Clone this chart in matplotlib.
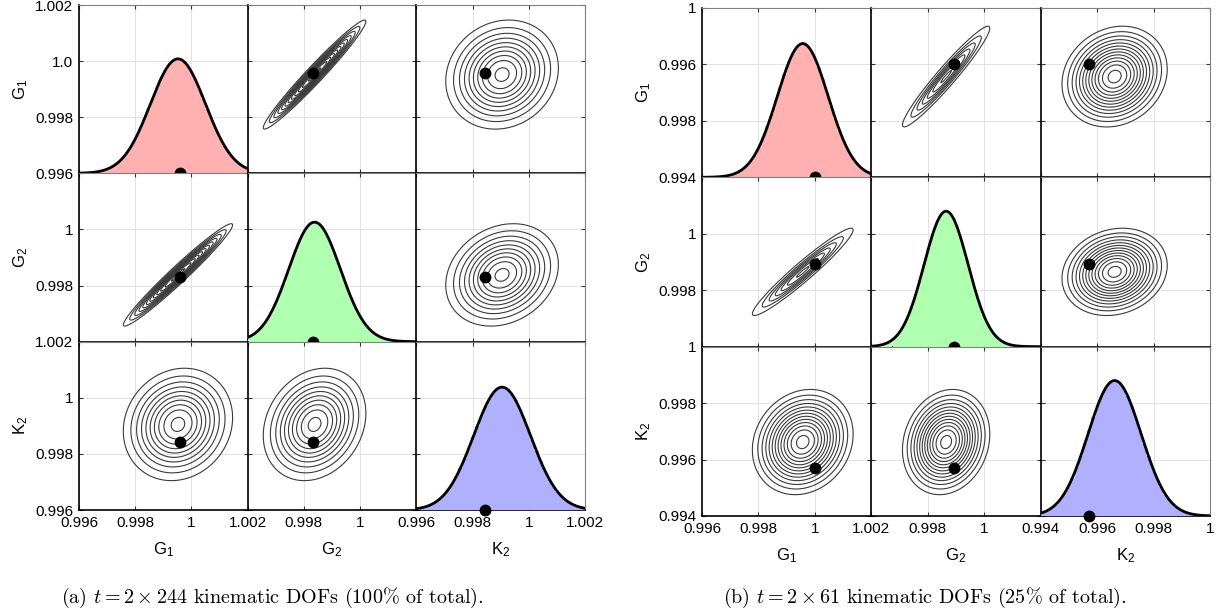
import numpy as np
import matplotlib.pyplot as plt

plt.rcParams['font.family'] = ['Liberation Sans', 'DejaVu Sans']
plt.rcParams['mathtext.default'] = 'regular'

names = ['G$_1$', 'G$_2$', 'K$_2$']
fill_colors = ['#ffb0b0', '#b0ffb0', '#b0b0ff']

# panel (a): posterior means / stds, correlations (G1G2, G1K2, G2K2), true values
a_mean = [0.99952, 0.99838, 0.99905]
a_std = [0.00098, 0.00092, 0.00101]
a_rho = [0.975, 0.12, 0.2]
a_true = [0.99958, 0.99832, 0.99843]
a_lims = [(0.996, 1.002), (0.996, 1.002), (0.996, 1.002)]
a_xlabels = [['0.996', '0.998', '1', '1.002'], ['', '0.998', '1', ''],
             ['0.996', '0.998', '1', '1.002']]
a_ylabels = [['0.996', '0.998', '1.0', '1.002'], ['1.002', '0.998', '1', ''],
             ['0.996', '0.998', '1', '']]
a_nlev = [12, 10, 10]
a_peak = [0.68, 0.71, 0.73]
a_caption = r'(a) $\mathit{t} = 2 \times 244$ kinematic DOFs (100% of total).'

# panel (b)
b_mean = [0.99957, 0.99865, 0.99662]
b_std = [0.0009, 0.00078, 0.00094]
b_rho = [0.96, 0.15, 0.15]
b_true = [1.00002, 0.99893, 0.99570]
b_lims = [(0.996, 1.002), (0.996, 1.002), (0.994, 1.000)]
b_xlabels = [['0.996', '0.998', '1', '1.002'], ['', '0.998', '1', ''],
             ['0.994', '0.996', '0.998', '1']]
b_ylabels = [['0.994', '0.998', '0.996', '1'], ['1', '0.998', '1', ''],
             ['0.994', '0.996', '0.998', '']]
b_nlev = [7, 13, 13]
b_peak = [0.79, 0.80, 0.80]
b_caption = r'(b) $\mathit{t} = 2 \times 61$ kinematic DOFs (25% of total).'

W, H = 1225, 615


def draw_panel(fig, box, mean, std, rho, true, lims, xlabels, ylabels, nlev, peak, caption, cap_x):
    l, r, t, b = box
    gs = fig.add_gridspec(3, 3, left=l / W, right=r / W, top=1 - t / H, bottom=1 - b / H,
                          wspace=0, hspace=0)
    pair = {(0, 1): 0, (0, 2): 1, (1, 2): 2}
    for i in range(3):
        for j in range(3):
            ax = fig.add_subplot(gs[i, j])
            ax.set_xlim(lims[j])
            ax.set_ylim(lims[i])
            ax.set_xticks(np.linspace(*lims[j], 4))
            ax.set_yticks(np.linspace(*lims[i], 4))
            ax.grid(True, color='#e2e2e2', lw=0.7)
            ax.set_axisbelow(True)
            ax.tick_params(direction='in', length=3, top=True, right=True,
                           labelsize=11, pad=4, color='#333333')
            for s in ['left', 'bottom']:
                ax.spines[s].set_color('black')
                ax.spines[s].set_linewidth(1.2)
            for s in ['top', 'right']:
                ax.spines[s].set_color('#808080')
                ax.spines[s].set_linewidth(0.8)
            if i == 2:
                ax.set_xticklabels(xlabels[j])
                ax.set_xlabel(names[j], fontsize=12, labelpad=8)
            else:
                ax.set_xticklabels([])
            if j == 0:
                ax.set_yticklabels(ylabels[i])
                ax.set_ylabel(names[i], fontsize=12, labelpad=4)
            else:
                ax.set_yticklabels([])

            if i == j:
                axd = ax.twinx()
                axd.axis('off')
                axd.set_ylim(0, 1 / peak[i])
                lo, hi = lims[i]
                w = (hi - lo) / 40
                centers = np.arange(lo + w / 2, hi, w)
                axd.bar(centers, np.exp(-0.5 * ((centers - mean[i]) / std[i]) ** 2),
                        width=w, color=fill_colors[i], edgecolor='none')
                x = np.linspace(lo, hi, 400)
                axd.plot(x, np.exp(-0.5 * ((x - mean[i]) / std[i]) ** 2), 'k', lw=2)
                axd.plot(true[i], 0, 'o', color='black', ms=7.5, clip_on=False, zorder=10)
            else:
                k = pair[tuple(sorted((i, j)))]
                x = np.linspace(*lims[j], 300)
                y = np.linspace(*lims[i], 300)
                X, Y = np.meshgrid(x, y)
                u = (X - mean[j]) / std[j]
                v = (Y - mean[i]) / std[i]
                p = rho[k]
                Z = np.exp(-(u ** 2 - 2 * p * u * v + v ** 2) / (2 * (1 - p ** 2)))
                ax.contour(X, Y, Z, levels=np.linspace(0.14, 0.97, nlev[k]),
                           colors='#3a3a3a', linewidths=0.8)
                ax.plot(true[j], true[i], 'o', color='black', ms=7.5, zorder=5)
    fig.text(cap_x / W, 1 - 598 / H, caption, ha='center', va='center',
             family='cmr10', math_fontfamily='cm', fontsize=14.5)


fig = plt.figure(figsize=(W / 100, H / 100), dpi=100)
draw_panel(fig, (79, 585, 5, 510), a_mean, a_std, a_rho, a_true, a_lims,
           a_xlabels, a_ylabels, a_nlev, a_peak, a_caption, 272)
draw_panel(fig, (702, 1210, 8, 516), b_mean, b_std, b_rho, b_true, b_lims,
           b_xlabels, b_ylabels, b_nlev, b_peak, b_caption, 925)
fig.savefig('out.png', dpi=100)
